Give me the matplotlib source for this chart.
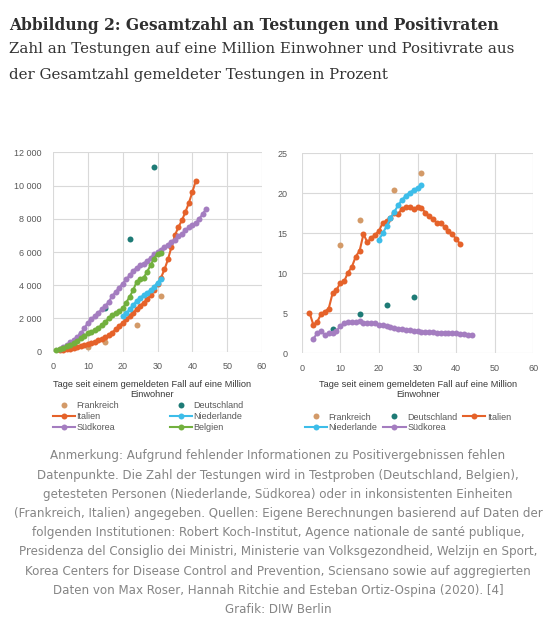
import matplotlib
matplotlib.use("Agg")
import matplotlib.pyplot as plt

# ---------------- data ----------------
# left panel: cumulative tests per million inhabitants
it_days_l = list(range(2, 42))
it_tests = [80, 110, 150, 190, 240, 290, 340, 400, 470, 540, 610, 690, 780, 880, 990,
            1150, 1350, 1550, 1750, 1950, 2150, 2350, 2550, 2750, 2950, 3150, 3400,
            3700, 4050, 4450, 4950, 5550, 6300, 7000, 7500, 7900, 8400, 8950, 9600, 10300]
sk_days_l = list(range(2, 45))
sk_tests = [150, 300, 420, 560, 720, 900, 1100, 1400, 1750, 1950, 2150, 2350, 2550,
            2750, 3000, 3350, 3600, 3850, 4100, 4350, 4600, 4850, 5050, 5200, 5300,
            5450, 5650, 5850, 6000, 6150, 6300, 6450, 6600, 6750, 6950, 7100, 7300,
            7500, 7600, 7750, 8000, 8300, 8600]
nl_days_l = list(range(20, 32))
nl_tests = [2150, 2300, 2550, 2800, 3050, 3250, 3400, 3550, 3700, 3900, 4150, 4400]
be_days_l = list(range(1, 32))
be_tests = [120, 180, 250, 330, 420, 520, 650, 800, 950, 1100, 1200, 1320, 1450, 1600,
            1800, 2000, 2200, 2350, 2450, 2600, 2950, 3300, 3700, 4200, 4350, 4450,
            4800, 5200, 5600, 5900, 5950]
fr_days = [10, 15, 24, 31]
fr_tests = [300, 560, 1620, 3360]
de_days = [8, 15, 22, 29]
de_tests = [1060, 2600, 6800, 11100]

# right panel: positive rate in percent
fr_pos = [13.6, 16.7, 20.4, 22.6]
de_pos = [3.1, 4.9, 6.1, 7.1]
it_pos = [5.1, 3.6, 3.9, 4.9, 5.2, 5.6, 7.5, 7.9, 8.8, 9.0, 10.1, 10.8, 12.1, 12.8,
          14.9, 13.9, 14.4, 14.8, 15.3, 16.3, 16.6, 16.9, 17.5, 17.4, 18.1, 18.3,
          18.3, 18.0, 18.3, 18.2, 17.6, 17.2, 16.8, 16.3, 16.3, 15.8, 15.3, 14.9,
          14.3, 13.7]
nl_pos = [14.2, 15.0, 15.9, 16.9, 17.7, 18.5, 19.2, 19.7, 20.1, 20.4, 20.7, 21.0]
sk_days_r = list(range(3, 45))
sk_pos = [1.8, 2.5, 2.8, 2.3, 2.5, 2.6, 2.8, 3.4, 3.8, 3.9, 3.9, 3.9, 4.0, 3.8, 3.8,
          3.8, 3.8, 3.6, 3.5, 3.4, 3.3, 3.2, 3.1, 3.0, 2.9, 2.9, 2.8, 2.8, 2.7, 2.7,
          2.7, 2.7, 2.6, 2.6, 2.6, 2.6, 2.5, 2.5, 2.4, 2.4, 2.3, 2.3]

x_ticks = [0, 10, 20, 30, 40, 50, 60]
y_ticks_l = [0, 2000, 4000, 6000, 8000, 10000, 12000]
y_labels_l = ["0", "2 000", "4 000", "6 000", "8 000", "10 000", "12 000"]
y_ticks_r = [0, 5, 10, 15, 20, 25]

xlabel = "Tage seit einem gemeldeten Fall auf eine Million\nEinwohner"
title = "Abbildung 2: Gesamtzahl an Testungen und Positivraten"
subtitle = ["Zahl an Testungen auf eine Million Einwohner und Positivrate aus",
            "der Gesamtzahl gemeldeter Testungen in Prozent"]
note = ["Anmerkung: Aufgrund fehlender Informationen zu Positivergebnissen fehlen",
        "Datenpunkte. Die Zahl der Testungen wird in Testproben (Deutschland, Belgien),",
        "getesteten Personen (Niederlande, Südkorea) oder in inkonsistenten Einheiten",
        "(Frankreich, Italien) angegeben. Quellen: Eigene Berechnungen basierend auf Daten der",
        "folgenden Institutionen: Robert Koch-Institut, Agence nationale de santé publique,",
        "Presidenza del Consiglio dei Ministri, Ministerie van Volksgezondheid, Welzijn en Sport,",
        "Korea Centers for Disease Control and Prevention, Sciensano sowie auf aggregierten",
        "Daten von Max Roser, Hannah Ritchie and Esteban Ortiz-Ospina (2020). [4]",
        "Grafik: DIW Berlin"]

# ---------------- style ----------------
C_FR = "#D39A68"
C_DE = "#1E7B76"
C_IT = "#E5622A"
C_NL = "#3DBDE9"
C_SK = "#A47DC0"
C_BE = "#72B03E"
GRID = "#D9D9D9"
TXT = "#595959"

W, H = 556, 628
fig = plt.figure(figsize=(W / 100, H / 100), dpi=100)
fig.patch.set_facecolor("white")

def fax(l, t, r, b):
    return fig.add_axes([l / W, 1 - b / H, (r - l) / W, (b - t) / H])

axL = fax(53, 152.3, 262, 351.7)
axR = fax(301.7, 153.3, 533.3, 353.3)

ms = 4.3
lw = 1.5

def style(ax, yt, ylab, ymax, pad):
    ax.set_xlim(0, 60)
    ax.set_ylim(0, ymax)
    ax.set_xticks(x_ticks)
    ax.set_yticks(yt)
    ax.set_yticklabels(ylab)
    ax.grid(True, color=GRID, linewidth=0.8)
    ax.set_axisbelow(True)
    for s in ax.spines.values():
        s.set_visible(False)
    ax.tick_params(length=0, labelsize=6.5, colors=TXT, labelcolor=TXT)
    ax.tick_params(axis="x", pad=7.5)
    ax.tick_params(axis="y", pad=pad)
    for lab in ax.get_xticklabels() + ax.get_yticklabels():
        lab.set_family("Liberation Sans")

# left panel
hFR = axL.plot(fr_days, fr_tests, "o", color=C_FR, ms=ms, mew=0, label="Frankreich")[0]
hDE = axL.plot(de_days, de_tests, "o", color=C_DE, ms=ms, mew=0, label="Deutschland")[0]
hIT = axL.plot(it_days_l, it_tests, "-o", color=C_IT, ms=ms, mew=0, lw=lw, label="Italien")[0]
hNL = axL.plot(nl_days_l, nl_tests, "-o", color=C_NL, ms=ms, mew=0, lw=lw, label="Niederlande")[0]
hSK = axL.plot(sk_days_l, sk_tests, "-o", color=C_SK, ms=ms, mew=0, lw=lw, label="Südkorea")[0]
hBE = axL.plot(be_days_l, be_tests, "-o", color=C_BE, ms=ms, mew=0, lw=lw, label="Belgien")[0]
for h in [hFR, hDE, hIT, hNL, hSK, hBE]:
    h.set_clip_on(False)
style(axL, y_ticks_l, y_labels_l, 12000, 8)

# right panel
gFR = axR.plot(fr_days, fr_pos, "o", color=C_FR, ms=ms, mew=0, label="Frankreich")[0]
gDE = axR.plot(de_days, de_pos, "o", color=C_DE, ms=ms, mew=0, label="Deutschland")[0]
gIT = axR.plot(it_days_l, it_pos, "-o", color=C_IT, ms=ms, mew=0, lw=lw, label="Italien")[0]
gNL = axR.plot(nl_days_l, nl_pos, "-o", color=C_NL, ms=ms, mew=0, lw=lw, label="Niederlande")[0]
gSK = axR.plot(sk_days_r, sk_pos, "-o", color=C_SK, ms=ms, mew=0, lw=lw, label="Südkorea")[0]
style(axR, y_ticks_r, [str(v) for v in y_ticks_r], 25, 10)

# x-axis titles
for cx in (152, 418.3):
    fig.text(cx / W, 1 - 389.7 / H, xlabel, ha="center", va="center", fontsize=6.65,
             family="Liberation Sans", color="#3a3a3a", linespacing=1.15)

leg_kw = dict(frameon=False, borderpad=0, handlelength=2.45,
              handletextpad=0.17, labelspacing=0.18, borderaxespad=0,
              prop={"family": "Liberation Sans", "size": 6.5})
lg1 = axL.legend([hFR, hIT, hSK, hDE, hNL, hBE],
                 ["Frankreich", "Italien", "Südkorea", "Deutschland", "Niederlande", "Belgien"],
                 ncol=2, loc="upper left", bbox_to_anchor=(52.7 / W, 1 - 401.5 / H),
                 bbox_transform=fig.transFigure, columnspacing=5.6, **leg_kw)
lg2 = axR.legend([gFR, gNL, gDE, gSK, gIT],
                 ["Frankreich", "Niederlande", "Deutschland", "Südkorea", "Italien"],
                 ncol=3, loc="upper left", bbox_to_anchor=(305 / W, 1 - 412.5 / H),
                 bbox_transform=fig.transFigure, columnspacing=0.65, **leg_kw)
for lg in (lg1, lg2):
    for t in lg.get_texts():
        t.set_color(TXT)

# titles
fig.text(9 / W, 1 - 25.5 / H, title, ha="left", va="center", fontsize=11.2,
         family="DejaVu Serif", weight="bold", color="#2f2f2f")
for i, s in enumerate(subtitle):
    fig.text(9 / W, 1 - (48.5 + 26 * i) / H, s, ha="left", va="center", fontsize=10.85,
             family="DejaVu Serif", color="#333333")

# note
note_y = [456, 475.2, 494.4, 513.6, 532.8, 552, 571.2, 590.4, 609.6]
for s, y in zip(note, note_y):
    fig.text(278 / W, 1 - y / H, s, ha="center", va="center", fontsize=8.6,
             family="DejaVu Sans", color="#858585")

fig.savefig("out.png", dpi=100)
